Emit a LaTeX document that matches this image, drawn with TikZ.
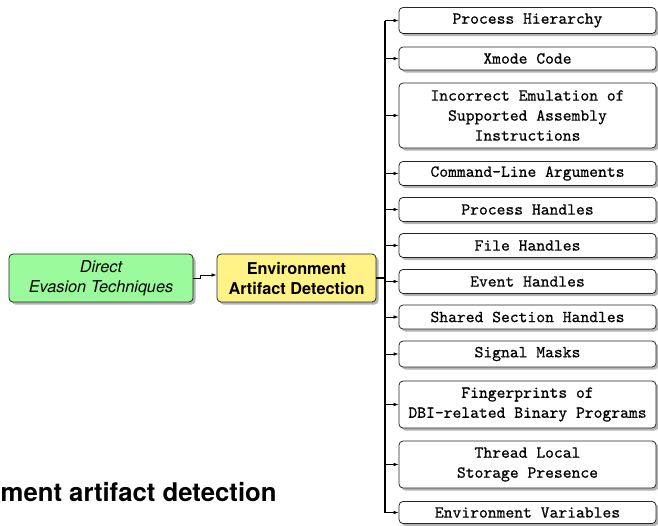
\documentclass[tikz,border=0pt]{standalone}
\usepackage{fontspec}
\setsansfont{TeX Gyre Heros}
\setmonofont{lmmono10-regular.otf}[FakeBold=0.6]
\usetikzlibrary{arrows.meta,shadows}
\definecolor{boxgreen}{RGB}{155,250,155}
\definecolor{boxyellow}{RGB}{255,242,135}
\tikzset{
  box/.style={draw=black!85, line width=0.8pt, rounded corners=4pt,
    drop shadow={shadow xshift=2.5pt,shadow yshift=-2.5pt,fill=black!50,opacity=0.6}},
  leaf/.style={box, fill=white, minimum width=257pt, inner sep=0pt, align=center,
    font=\fontsize{16.8}{20}\selectfont\ttfamily},
  mainbox/.style={box, inner sep=0pt, align=center, minimum height=48pt,
    font=\fontsize{16.3}{20}\selectfont\sffamily},
  arr/.style={-{Latex[length=5pt,width=3.6pt]}, line width=0.7pt},
  trunk/.style={line width=1.4pt},
}
\begin{document}
\begin{tikzpicture}[x=1pt,y=-1pt]
\useasboundingbox (0,0) rectangle (658,525);
% left boxes
\node[mainbox, fill=boxgreen, minimum width=184pt] (g) at (101,278)
  {\itshape Direct\\\itshape Evasion Techniques};
\node[mainbox, fill=boxyellow, minimum width=159pt] (ey) at (296.5,278)
  {\bfseries Environment\\\bfseries Artifact Detection};
% leaves
\node[leaf, minimum height=26pt] (b1) at (527.5,20.5) {Process Hierarchy};
\node[leaf, minimum height=23pt] (b2) at (527.5,58.5) {Xmode Code};
\node[leaf, minimum height=65pt] (b3) at (527.5,115.5) {Incorrect Emulation of\\Supported Assembly\\Instructions};
\node[leaf, minimum height=24pt] (b4) at (527.5,173.5) {Command-Line Arguments};
\node[leaf, minimum height=24pt] (b5) at (527.5,209.5) {Process Handles};
\node[leaf, minimum height=24pt] (b6) at (527.5,245.5) {File Handles};
\node[leaf, minimum height=24pt] (b7) at (527.5,281.5) {Event Handles};
\node[leaf, minimum height=24pt] (b8) at (527.5,317) {Shared Section Handles};
\node[leaf, minimum height=26pt] (b9) at (527.5,354) {Signal Masks};
\node[leaf, minimum height=47pt] (b10) at (527.5,404.5) {Fingerprints of\\DBI-related Binary Programs};
\node[leaf, minimum height=47pt] (b11) at (527.5,464.5) {Thread Local\\Storage Presence};
\node[leaf, minimum height=22pt] (b12) at (527.5,512.5) {Environment Variables};
% connectors
\coordinate (tr) at (385,278);
\draw[arr] (g.east) -- ++(7,0) |- ([yshift=3pt]ey.west);
\draw[trunk] (ey.east) -- (tr);
\draw[trunk] (tr |- b1.west) -- (tr |- b12.west);
\foreach \i in {1,...,12}{
  \draw[arr] (tr |- b\i.west) -- (b\i.west);
}
% caption fragment
\node[anchor=base west, inner sep=0pt, font=\fontsize{25.7}{30}\selectfont\sffamily\bfseries]
  (cap) at (0.5,501) {ment artifact detection};
\end{tikzpicture}
\end{document}
